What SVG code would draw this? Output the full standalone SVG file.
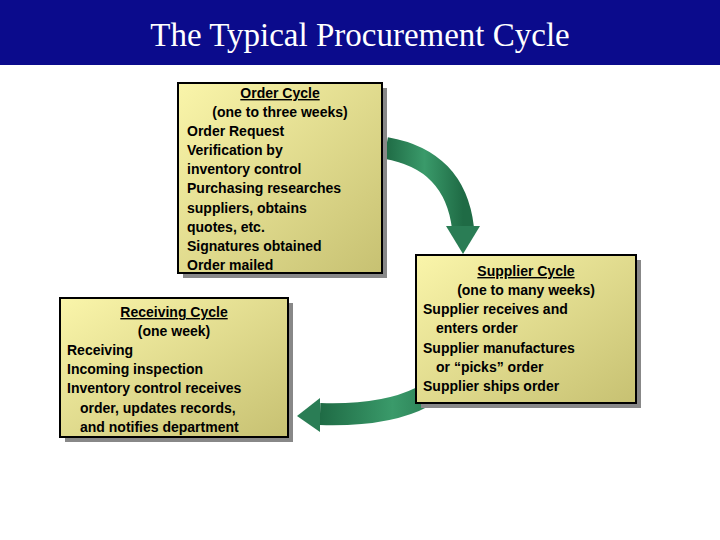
<svg xmlns="http://www.w3.org/2000/svg" width="720" height="540" viewBox="0 0 720 540">
<defs>
<linearGradient id="box" x1="0" y1="0" x2="1" y2="1"><stop offset="0" stop-color="#faf5aa"/><stop offset="1" stop-color="#c7c172"/></linearGradient>
<linearGradient id="arr" x1="0" y1="0" x2="1" y2="0"><stop offset="0" stop-color="#1f6b45"/><stop offset="0.5" stop-color="#3a9a6a"/><stop offset="1" stop-color="#1f6b45"/></linearGradient>
<style>
.b{fill:url(#box);stroke:#000;stroke-width:2}
.s{fill:#888}
.t{font-family:"Liberation Sans",Arial,sans-serif;font-weight:bold;font-size:14px;fill:#000}
.u{text-decoration:underline}
.a{fill:none;stroke:url(#arr);stroke-width:22}
.h{fill:#2a7d55}
</style>
</defs>
<rect x="0" y="0" width="720" height="65" fill="#0b0b8c"/>
<text x="360" y="46" text-anchor="middle" font-family="Liberation Serif,Times New Roman,serif" font-size="33" fill="#fff">The Typical Procurement Cycle</text>
<g id="connectors">
<path class="a" d="M386,148 Q455,160 463,228"/>
<polygon class="h" points="446,226 480,226 463,254"/>
<path class="a" d="M465,345 Q445,418 320,414"/>
<polygon class="h" points="320,398 320,432 297,416"/>
</g>
<g id="order">
<rect class="s" x="183" y="88" width="204" height="190"/>
<rect class="b" x="178" y="83" width="204" height="190"/>
<text class="t" x="280" y="98" text-anchor="middle"><tspan class="u">Order Cycle</tspan></text>
<text class="t" x="280" y="117" text-anchor="middle">(one to three weeks)</text>
<text class="t" x="187"><tspan x="187" y="136">Order Request</tspan><tspan x="187" y="155">Verification by</tspan><tspan x="187" y="174">inventory control</tspan><tspan x="187" y="193">Purchasing researches</tspan><tspan x="187" y="213">suppliers, obtains</tspan><tspan x="187" y="232">quotes, etc.</tspan><tspan x="187" y="251">Signatures obtained</tspan><tspan x="187" y="270">Order mailed</tspan></text>
</g>
<g id="supplier">
<rect class="s" x="421" y="260" width="220" height="148"/>
<rect class="b" x="416" y="255" width="220" height="148"/>
<text class="t" x="526" y="276" text-anchor="middle"><tspan class="u">Supplier Cycle</tspan></text>
<text class="t" x="526" y="295" text-anchor="middle">(one to many weeks)</text>
<text class="t"><tspan x="423" y="314">Supplier receives and</tspan><tspan x="436" y="333">enters order</tspan><tspan x="423" y="353">Supplier manufactures</tspan><tspan x="436" y="372">or “picks” order</tspan><tspan x="423" y="391">Supplier ships order</tspan></text>
</g>
<g id="receiving">
<rect class="s" x="65" y="303" width="228" height="139"/>
<rect class="b" x="60" y="298" width="228" height="139"/>
<text class="t" x="174" y="317" text-anchor="middle"><tspan class="u">Receiving Cycle</tspan></text>
<text class="t" x="174" y="336" text-anchor="middle">(one week)</text>
<text class="t"><tspan x="67" y="355">Receiving</tspan><tspan x="67" y="374">Incoming inspection</tspan><tspan x="67" y="393">Inventory control receives</tspan><tspan x="80" y="413">order, updates records,</tspan><tspan x="80" y="432">and notifies department</tspan></text>
</g>
</svg>
